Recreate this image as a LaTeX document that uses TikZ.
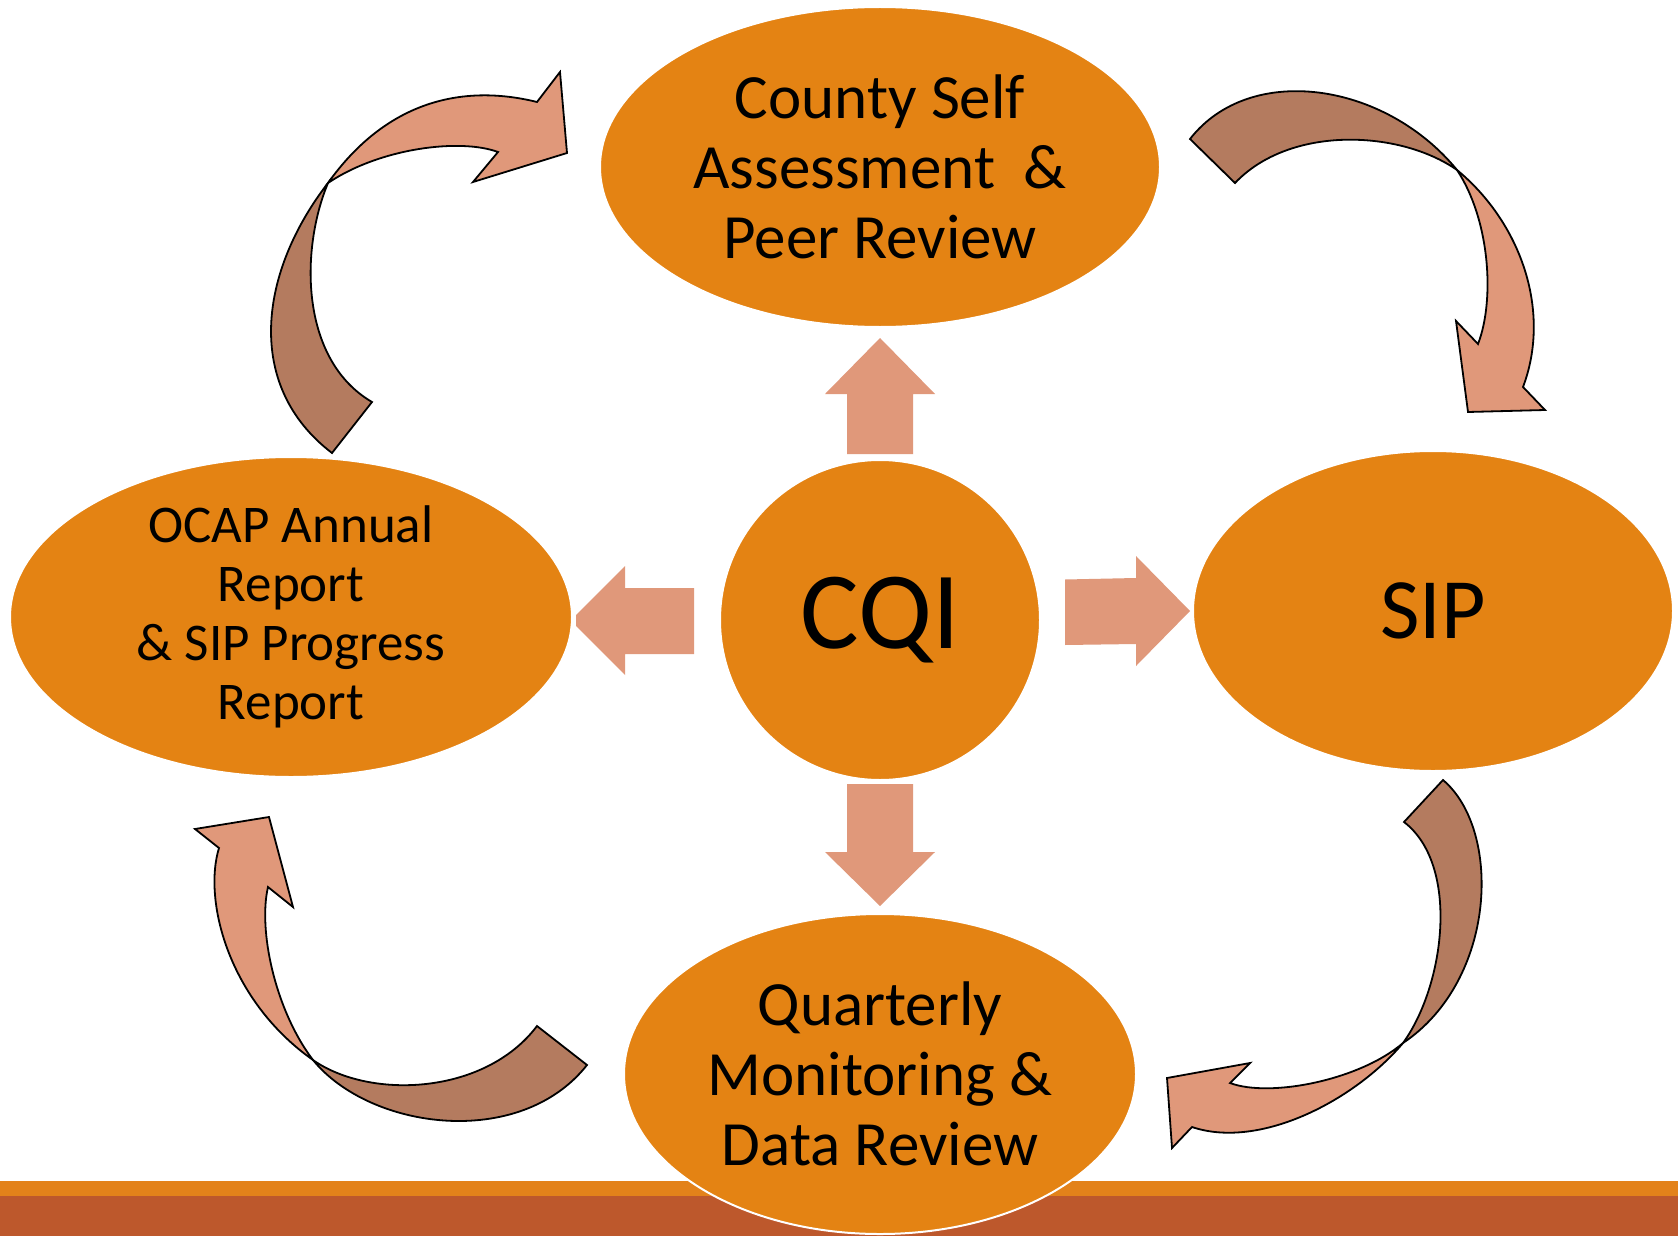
\documentclass[tikz,border=0pt]{standalone}
\usepackage{fontspec}
\setmainfont{Carlito}
\usetikzlibrary{shapes.geometric}
\definecolor{ellorange}{HTML}{E48313}
\definecolor{barorange}{HTML}{E3821A}
\definecolor{bardark}{HTML}{BD582C}
\definecolor{arrlight}{HTML}{E0987A}
\definecolor{arrdark}{HTML}{B47B5F}
\tikzset{
  ellnode/.style={ellipse, fill=ellorange, draw=white, line width=2pt, inner sep=0pt},
  lbl/.style={align=center, text=black, inner sep=0pt},
  ribbonlight/.style={fill=arrlight, draw=black, line width=1.8pt},
  ribbondark/.style={fill=arrdark, draw=black, line width=1.8pt},
  blockarrow/.style={fill=arrlight},
}
\begin{document}
\begin{tikzpicture}[x=1pt,y=-1pt]
\fill[white] (0,0) rectangle (1678,1236);
\useasboundingbox (0,0) rectangle (1678,1236);
% bottom bar
\fill[barorange] (0,1180.5) rectangle (1678,1236);
\fill[bardark] (0,1195.5) rectangle (1678,1236);
% ellipses
\node[ellnode, minimum width=560pt, minimum height=320pt] (top) at (880,167) {};
\node[ellnode, minimum width=562pt, minimum height=320pt] (left) at (291,617) {};
\node[ellnode, minimum width=480pt, minimum height=320pt] (right) at (1433,611) {};
\node[ellnode, minimum width=512pt, minimum height=320pt] (bottom) at (880,1074) {};
\node[ellnode, circle, minimum size=320pt] (cqi) at (880,620) {};
% block arrows
\fill[blockarrow] (847,454) -- (847,394) -- (825,394) -- (880,338) -- (935,394) -- (913,394) -- (913,454) -- cycle;
\fill[blockarrow] (847,784) -- (847,852) -- (825,852) -- (880,906) -- (935,852) -- (913,852) -- (913,784) -- cycle;
\fill[blockarrow] (694,588) -- (625,588) -- (625,566) -- (576,615) -- (576,626) -- (625,675) -- (625,654) -- (694,654) -- cycle;
\fill[blockarrow] (1065,579.5) -- (1136,578) -- (1136,556) -- (1190,611) -- (1136,666) -- (1136,644) -- (1065,645) -- cycle;
% curved arrow top-left
\path[ribbondark] (332,453) .. controls (243,385) and (260,271) .. (328,183)
  .. controls (300,250) and (300,360) .. (372,402) -- cycle;
\path[ribbonlight] (328,183) .. controls (385,103) and (460,83) .. (537,102)
  -- (560,72) -- (567,153) -- (473,182) -- (498,152)
  .. controls (460,138) and (380,148) .. (328,183) -- cycle;
% curved arrow top-right
\path[ribbondark] (1190,139) .. controls (1250,62) and (1385,82) .. (1457,170)
  .. controls (1400,130) and (1290,125) .. (1235,183) -- cycle;
\path[ribbonlight] (1457,170) .. controls (1520,222) and (1552,310) .. (1523,387)
  -- (1545,410) -- (1468,412) -- (1456,321) -- (1478,344)
  .. controls (1495,300) and (1490,220) .. (1457,170) -- cycle;
% curved arrow bottom-left
\path[ribbondark] (313,1060) .. controls (370,1130) and (520,1150) .. (587,1065)
  -- (537,1026) .. controls (485,1095) and (370,1100) .. (313,1060) -- cycle;
\path[ribbonlight] (219,848) -- (195,829) -- (269,817) -- (293,907) -- (268,887)
  .. controls (258,930) and (275,1010) .. (313,1060)
  .. controls (228,1000) and (203,900) .. (219,848) -- cycle;
% curved arrow bottom-right
\path[ribbondark] (1443,780) .. controls (1502,830) and (1497,980) .. (1403,1043)
  .. controls (1445,985) and (1460,865) .. (1404,822) -- cycle;
\path[ribbonlight] (1403,1043) .. controls (1355,1100) and (1260,1150) .. (1192,1127)
  -- (1172,1148) -- (1167,1078) -- (1250,1063) -- (1230,1083)
  .. controls (1270,1098) and (1360,1080) .. (1403,1043) -- cycle;
% labels
\node[lbl, font=\fontsize{63}{70}\selectfont] (topT) at (top) {County Self\\Assessment\ \ \&\\Peer Review};
\node[lbl, font=\fontsize{53}{59}\selectfont] (leftT) at (left) {OCAP Annual\\Report\\\& SIP Progress\\Report};
\node[lbl, font=\fontsize{86}{96}\selectfont] (rightT) at (right) {SIP};
\node[lbl, font=\fontsize{63}{70}\selectfont] (bottomT) at (bottom) {Quarterly\\Monitoring \&\\Data Review};
\node[lbl, font=\fontsize{110}{120}\selectfont] (cqiT) at (cqi) {CQI};
\end{tikzpicture}
\end{document}
